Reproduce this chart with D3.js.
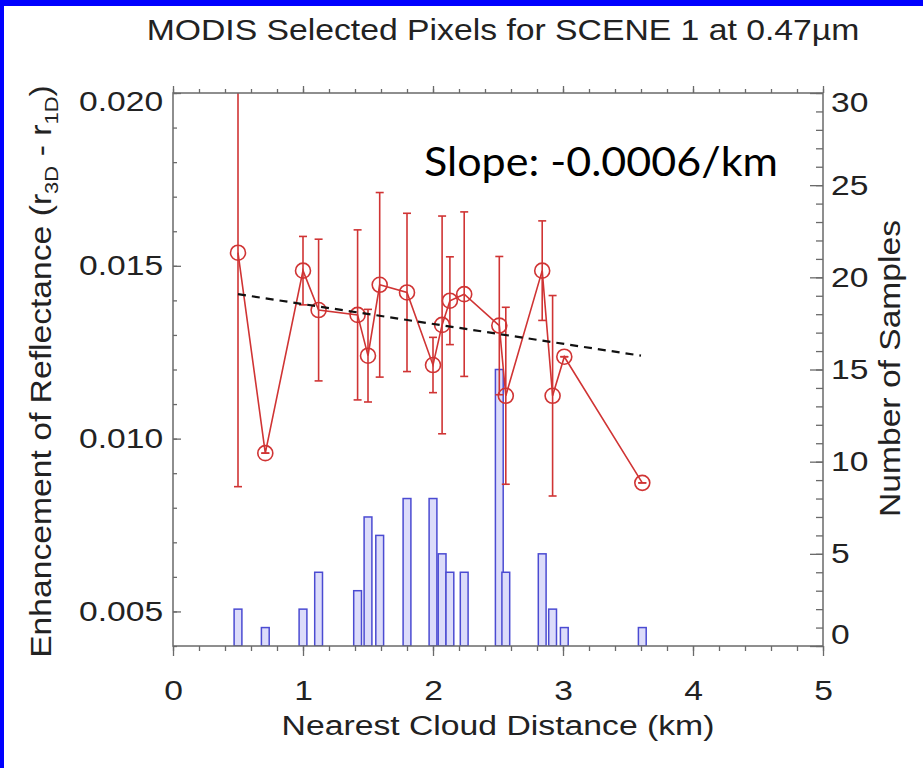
<!DOCTYPE html>
<html><head><meta charset="utf-8">
<script src="https://cdn.jsdelivr.net/npm/d3@7"></script>
<style>body{margin:0;background:#fff}svg{display:block}</style>
</head><body>
<svg id="c" width="923" height="768"></svg>
<script>
// ---- data ----
const distance       = [0.50, 0.71, 1.00, 1.12, 1.42, 1.50, 1.59, 1.80, 2.00, 2.07, 2.13, 2.24, 2.51, 2.56, 2.84, 2.92, 3.01, 3.61];
const enhancement    = [0.01538, 0.00958, 0.01486, 0.01372, 0.01358, 0.01240, 0.01445, 0.01423, 0.01213, 0.01329, 0.01399, 0.01418, 0.01327, 0.01124, 0.01486, 0.01124, 0.01237, 0.00872];
const enhancementErr = [0.00677, 0, 0.00099, 0.00205, 0.00246, 0.00134, 0.00267, 0.00229, 0.00080, 0.00315, 0.00127, 0.00238, 0.00200, 0.00256, 0.00144, 0.00290, 0, 0];
const sampleCount    = [2, 1, 2, 4, 3, 7, 6, 8, 8, 5, 4, 4, 15, 4, 5, 2, 1, 1];
const fitDistance    = [0.5, 3.6];
const fitEnhancement = [0.01418, 0.01240];
const xTicks     = [0, 1, 2, 3, 4, 5];
const leftTicks  = [0.005, 0.010, 0.015, 0.020];
const rightTicks = [0, 5, 10, 15, 20, 25, 30];
const titleText  = "MODIS Selected Pixels for SCENE 1 at 0.47\u00b5m";
const xLabel     = "Nearest Cloud Distance (km)";
const rightLabel = "Number of Samples";
const slopeText  = "Slope: -0.0006/km";
const BAR_WIDTH_KM = 0.06;

// ---- layout ----
const W = 923, H = 768;
const m = {l: 173, r: 823, t: 93, b: 646};
const FONT = "'Liberation Sans', Arial, Helvetica, sans-serif";
const axisColor = "#6a6a6a";
const red = "#d03434";

const svg = d3.select("#c");
svg.append("rect").attr("width", W).attr("height", H).attr("fill", "#fff");
svg.append("rect").attr("x", 0).attr("y", 0).attr("width", W).attr("height", 6).attr("fill", "#0000ff");
svg.append("rect").attr("x", 0).attr("y", 0).attr("width", 4).attr("height", H).attr("fill", "#0000ff");

const x  = d3.scaleLinear().domain([0, 5]).range([m.l, m.r]);
const yL = d3.scaleLinear().domain([0.004, 0.020]).range([m.b, m.t]);
const yR = d3.scaleLinear().domain([0, 30]).range([m.b, m.t]);

svg.append("clipPath").attr("id", "pc").append("rect")
  .attr("x", m.l).attr("y", m.t).attr("width", m.r - m.l).attr("height", m.b - m.t);
const plot = svg.append("g").attr("clip-path", "url(#pc)");

const pts = distance.map((d, i) => ({x: d, y: enhancement[i], e: enhancementErr[i], n: sampleCount[i]}));

// bars
const bw = x(BAR_WIDTH_KM) - x(0);
plot.selectAll("rect.bar").data(pts).join("rect").attr("class", "bar")
  .attr("x", d => x(d.x) - bw / 2).attr("width", bw)
  .attr("y", d => yR(d.n)).attr("height", d => yR(0) - yR(d.n))
  .attr("fill", "#dcdcfa").attr("stroke", "#4b4bd2").attr("stroke-width", 1.5);

// red line
plot.append("path").datum(pts)
  .attr("d", d3.line().x(d => x(d.x)).y(d => yL(d.y)))
  .attr("fill", "none").attr("stroke", red).attr("stroke-width", 1.6);

// error bars
const eb = plot.selectAll("g.eb").data(pts).join("g").attr("class", "eb")
  .attr("stroke", red).attr("stroke-width", 1.6);
eb.append("line").attr("x1", d => x(d.x)).attr("x2", d => x(d.x))
  .attr("y1", d => yL(d.y - d.e)).attr("y2", d => yL(d.y + d.e));
eb.append("line").attr("x1", d => x(d.x) - 4).attr("x2", d => x(d.x) + 4)
  .attr("y1", d => yL(d.y + d.e)).attr("y2", d => yL(d.y + d.e));
eb.append("line").attr("x1", d => x(d.x) - 4).attr("x2", d => x(d.x) + 4)
  .attr("y1", d => yL(d.y - d.e)).attr("y2", d => yL(d.y - d.e));

// circles
plot.selectAll("circle.pt").data(pts).join("circle").attr("class", "pt")
  .attr("cx", d => x(d.x)).attr("cy", d => yL(d.y)).attr("r", 7.5)
  .attr("fill", "none").attr("stroke", red).attr("stroke-width", 1.6);

// fit line
const fit = fitDistance.map((d, i) => ({x: d, y: fitEnhancement[i]}));
plot.append("path").datum(fit)
  .attr("d", d3.line().x(d => x(d.x)).y(d => yL(d.y)))
  .attr("stroke", "#111").attr("stroke-width", 2.2).attr("stroke-dasharray", "8,6").attr("fill", "none");

// ---- axes ----
function styleAxis(g, labels) {
  g.attr("font-size", 28).attr("font-family", FONT);
  g.select(".domain").remove();
  g.selectAll("line").attr("stroke", axisColor).attr("stroke-width", 1.3);
  if (labels) g.selectAll("text").attr("fill", "#222").attr("transform", "scale(1.2,1)");
  else g.selectAll("text").remove();
}
const xMinor = d3.range(0, 5.0001, 0.2);
const lMinor = d3.range(0.004, 0.02001, 0.001);
const rMinor = d3.range(0, 30.001, 1);

svg.append("g").attr("transform", `translate(0,${m.b})`)
  .call(d3.axisBottom(x).tickValues(xMinor).tickSize(5).tickFormat("")).call(g => styleAxis(g, false));
svg.append("g").attr("transform", `translate(0,${m.b})`)
  .call(d3.axisBottom(x).tickValues(xTicks).tickSize(10).tickPadding(24).tickFormat(d3.format("d")))
  .call(g => styleAxis(g, true));
svg.append("g").attr("transform", `translate(0,${m.t})`)
  .call(d3.axisTop(x).tickValues(xMinor).tickSize(4).tickFormat("")).call(g => styleAxis(g, false));
svg.append("g").attr("transform", `translate(0,${m.t})`)
  .call(d3.axisTop(x).tickValues(xTicks).tickSize(7).tickFormat("")).call(g => styleAxis(g, false));

svg.append("g").attr("transform", `translate(${m.l},0)`)
  .call(d3.axisRight(yL).tickValues(lMinor).tickSize(4).tickFormat("")).call(g => styleAxis(g, false));
const gl = svg.append("g").attr("transform", `translate(${m.l},0)`)
  .call(d3.axisLeft(yL).tickValues(leftTicks).tickSizeInner(-8).tickSizeOuter(0).tickPadding(8.3).tickFormat(d3.format(".3f")))
  .call(g => styleAxis(g, true));
gl.selectAll(".tick").filter(d => d === 0.020).select("text").attr("y", 9);

svg.append("g").attr("transform", `translate(${m.r},0)`)
  .call(d3.axisLeft(yR).tickValues(rMinor).tickSize(7).tickFormat("")).call(g => styleAxis(g, false));
const gr = svg.append("g").attr("transform", `translate(${m.r},0)`)
  .call(d3.axisRight(yR).tickValues(rightTicks).tickSizeInner(-13).tickSizeOuter(0).tickPadding(6.7).tickFormat(d3.format("d")))
  .call(g => styleAxis(g, true));
gr.selectAll(".tick").filter(d => d === 30).select("text").attr("y", 10);
gr.selectAll(".tick").filter(d => d === 0).select("text").attr("y", -11);

svg.append("rect").attr("x", m.l).attr("y", m.t).attr("width", m.r - m.l).attr("height", m.b - m.t)
  .attr("fill", "none").attr("stroke", axisColor).attr("stroke-width", 1.5);

// ---- texts fitted to measured extents ----
function fitted(tx, ty, rot, target, build) {
  const g = svg.append("g");
  const t = g.append("text").attr("x", 0).attr("y", 0);
  build(t);
  const w = t.node().getBBox().width;
  const s = target / w;
  g.attr("transform", `translate(${tx},${ty})` + (rot ? ` rotate(${rot})` : "") + ` scale(${s},1)`);
  return t;
}
fitted(503, 40, 0, 713, t => t.text(titleText).attr("text-anchor", "middle")
  .attr("font-family", FONT).attr("font-size", 30).attr("fill", "#222"));
fitted(498, 735, 0, 433, t => t.text(xLabel).attr("text-anchor", "middle")
  .attr("font-family", FONT).attr("font-size", 28).attr("fill", "#222"));
fitted(900, 368.5, -90, 297, t => t.text(rightLabel).attr("text-anchor", "middle")
  .attr("font-family", FONT).attr("font-size", 30).attr("fill", "#222"));
fitted(51, 371.5, -90, 573, t => {
  t.attr("text-anchor", "middle").attr("font-family", FONT).attr("font-size", 29).attr("fill", "#222");
  t.append("tspan").text("Enhancement of Reflectance (r");
  t.append("tspan").text("3D").attr("font-size", 19).attr("dy", 7);
  t.append("tspan").text(" - r").attr("dy", -7);
  t.append("tspan").text("1D").attr("font-size", 19).attr("dy", 7);
  t.append("tspan").text(")").attr("dy", -7);
});
fitted(424, 176, 0, 354, t => t.text(slopeText).attr("text-anchor", "start")
  .attr("font-family", "Lato, 'Open Sans', sans-serif").attr("font-size", 40).attr("fill", "#000"));
</script>
</body></html>
